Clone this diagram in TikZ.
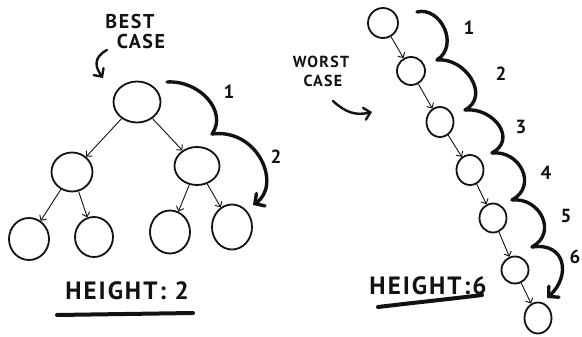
\documentclass[tikz,border=0pt]{standalone}
\usepackage{fontspec}
\usepackage{xcolor}
\usepackage{tikz}
\usetikzlibrary{shapes.geometric, arrows.meta, positioning, calc}
\newfontfamily\handfont{PT Sans}[LetterSpace=8]
\definecolor{InkBlack}{RGB}{18, 18, 18}

\begin{document}
\begin{tikzpicture}[x=1pt, y=-1pt,
    bub/.style={draw=InkBlack, ellipse, line width=1.8pt, inner sep=0pt},
    link/.style={draw=InkBlack, line width=0.9pt, -{Straight Barb[length=4pt, width=8pt]}},
    swoop/.style={draw=InkBlack, line width=3.4pt, line cap=round},
    swooptip/.style={swoop, -{Straight Barb[length=7pt, width=15pt, line cap=round]}},
    pointer/.style={draw=InkBlack, line width=2.4pt, line cap=round, -{Straight Barb[length=6pt, width=12pt, line cap=round]}},
    hand/.style={text=InkBlack, inner sep=0pt, font=\handfont\bfseries\fontsize{20}{20}\selectfont},
    count/.style={text=InkBlack, inner sep=0pt, font=\handfont\bfseries\fontsize{19}{19}\selectfont},
    tall/.style={text=InkBlack, inner sep=0pt, font=\handfont\bfseries\fontsize{25}{25}\selectfont},
    under/.style={draw=InkBlack, line width=4pt, line cap=round},
  ]
  \useasboundingbox[fill=white] (0,0) rectangle (582,337);

  \node[bub, minimum width=47pt, minimum height=41pt] (root) at (137,102) {};
  \node[bub, minimum width=41pt, minimum height=39pt] (midl) at (72,172) {};
  \node[bub, minimum width=45pt, minimum height=38pt] (midr) at (197,166) {};
  \node[bub, minimum width=40pt, minimum height=42pt] (leafa) at (29,239) {};
  \node[bub, minimum width=38pt, minimum height=40pt] (leafb) at (94,237) {};
  \node[bub, minimum width=40pt, minimum height=43pt] (leafc) at (170,232) {};
  \node[bub, minimum width=40pt, minimum height=45pt] (leafd) at (232,227) {};

  \draw[link] (root) -- (midl);
  \draw[link] (root) -- (midr);
  \draw[link] (midl) -- (leafa);
  \draw[link] (midl) -- (leafb);
  \draw[link] (midr) -- (leafc);
  \draw[link] (midr) -- (leafd);

  \node[bub, minimum width=30pt, minimum height=30pt] (chaina) at (383,23) {};
  \node[bub, minimum width=28pt, minimum height=28pt] (chainb) at (411,71) {};
  \node[bub, minimum width=27pt, minimum height=30pt] (chainc) at (440,122) {};
  \node[bub, minimum width=27pt, minimum height=30pt] (chaind) at (470,170) {};
  \node[bub, minimum width=27pt, minimum height=29pt] (chaine) at (493,218) {};
  \node[bub, minimum width=27pt, minimum height=27pt] (chainf) at (515,270) {};
  \node[bub, minimum width=27pt, minimum height=31pt] (chaing) at (538,318) {};

  \draw[link] (chaina) -- (chainb);
  \draw[link] (chainb) -- (chainc);
  \draw[link] (chainc) -- (chaind);
  \draw[link] (chaind) -- (chaine);
  \draw[link] (chaine) -- (chainf);
  \draw[link] (chainf) -- (chaing);

  \coordinate (bestcurl) at (167,82);
  \coordinate (bestcusp) at (212,134);
  \coordinate (besttip) at (253,205);
  \draw[swoop] (bestcurl) .. controls (200,80) and (228,112) .. (bestcusp);
  \draw[swooptip] (bestcusp) .. controls (258,128) and (282,185) .. (besttip);
  \node[count] (bestone) at (229,92) {1};
  \node[count] (besttwo) at (276,157) {2};

  \coordinate (worstcurl) at (417,12);
  \coordinate (worstcuspa) at (437,60);
  \coordinate (worstcuspb) at (465,110);
  \coordinate (worstcuspc) at (492,153);
  \coordinate (worstcuspd) at (512,200);
  \coordinate (worstcuspe) at (532,247);
  \coordinate (worsttip) at (547,298);
  \draw[swoop] (worstcurl) .. controls (440,6) and (460,45) .. (worstcuspa);
  \draw[swoop] (worstcuspa) .. controls (465,57) and (491,96) .. (worstcuspb);
  \draw[swoop] (worstcuspb) .. controls (493,107) and (518,139) .. (worstcuspc);
  \draw[swoop] (worstcuspc) .. controls (520,150) and (538,186) .. (worstcuspd);
  \draw[swoop] (worstcuspd) .. controls (540,197) and (558,233) .. (worstcuspe);
  \draw[swooptip] (worstcuspe) .. controls (566,242) and (571,276) .. (worsttip);
  \node[count] (worstone) at (469,28) {1};
  \node[count] (worsttwo) at (501,74) {2};
  \node[count] (worstthree) at (521,127) {3};
  \node[count] (worstfour) at (546,173) {4};
  \node[count] (worstfive) at (566,216) {5};
  \node[count] (worstsix) at (575,257) {6};

  \node[hand] (bestword) at (130,22) {BEST};
  \node[hand] (caseword) at (141,42) {CASE};
  \coordinate (bestfrom) at (107,50);
  \coordinate (bestto) at (103,78);
  \draw[pointer] (bestfrom) .. controls (92,58) and (96,68) .. (bestto);

  \node[hand, font=\handfont\bfseries\fontsize{16}{16}\selectfont] (worstword) at (321,62) {WORST};
  \node[hand, font=\handfont\bfseries\fontsize{16}{16}\selectfont] (worstcase) at (323,81) {CASE};
  \coordinate (worstfrom) at (333,101);
  \coordinate (worstto) at (372,112);
  \draw[pointer] (worstfrom) .. controls (345,112) and (355,116) .. (worstto);

  \node[tall] (heightbest) at (127,291) {HEIGHT: 2};
  \node[tall] (heightworst) at (428,286) {HEIGHT:6};
  \draw[under] (57,315) -- (193,313);
  \draw[under] (378,307) .. controls (420,302) and (450,299) .. (482,295);
\end{tikzpicture}
\end{document}
